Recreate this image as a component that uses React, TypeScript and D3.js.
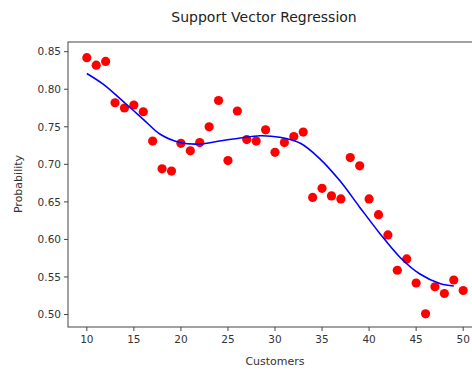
import React from "react";
import * as d3 from "d3";

const customers = [10,11,12,13,14,15,16,17,18,19,20,21,22,23,24,25,26,27,28,29,30,31,32,33,34,35,36,37,38,39,40,41,42,43,44,45,46,47,48,49,50];
const probability = [0.842,0.832,0.837,0.782,0.775,0.779,0.770,0.731,0.694,0.691,0.728,0.718,0.729,0.750,0.785,0.705,0.771,0.733,0.731,0.746,0.716,0.729,0.737,0.743,0.656,0.668,0.658,0.654,0.709,0.698,0.654,0.633,0.606,0.559,0.574,0.542,0.501,0.537,0.528,0.546,0.532];

const fitX = [10,11.7,14.2,16,17.8,19.9,22,24.1,26.3,28.4,30.5,32.7,34.8,36.9,39,41.2,43.3,45.4,47.6,49];
const fitY = [0.821,0.807,0.780,0.760,0.740,0.729,0.727,0.731,0.735,0.738,0.736,0.728,0.707,0.678,0.643,0.607,0.576,0.554,0.541,0.538];

const xTicks = [10,15,20,25,30,35,40,45,50];
const yTicks = [0.5,0.55,0.6,0.65,0.7,0.75,0.8,0.85];

const W = 472, H = 370;
const left = 68, right = 482, top = 42, bottom = 327;

export default function App() {
  const x = d3.scaleLinear().domain([8, 52]).range([left, right]);
  const y = d3.scaleLinear().domain([0.4834, 0.8629]).range([bottom, top]);
  const line = d3.line<number>().x((_, i) => x(fitX[i])).y((d) => y(d)).curve(d3.curveCatmullRom);
  const font = "DejaVu Sans, sans-serif";
  return (
    <svg width={W} height={H} style={{ position: "absolute", left: 0, top: 0, background: "#fff" }}>
      <text x={264} y={22} textAnchor="middle" fontFamily={font} fontSize={14} fill="#222">Support Vector Regression</text>
      {probability.map((p, i) => (
        <circle key={i} cx={x(customers[i])} cy={y(p)} r={4.6} fill="#ff0000" />
      ))}
      <path d={line(fitY) || ""} fill="none" stroke="#0000ff" strokeWidth={1.6} />
      <rect x={left} y={top} width={right - left} height={bottom - top} fill="none" stroke="#444" strokeWidth={1} />
      {xTicks.map((t) => (
        <g key={t}>
          <line x1={x(t)} x2={x(t)} y1={bottom} y2={bottom + 4} stroke="#444" />
          <text x={x(t)} y={bottom + 16} textAnchor="middle" fontFamily={font} fontSize={10.5} fill="#333">{t}</text>
        </g>
      ))}
      {yTicks.map((t) => (
        <g key={t}>
          <line x1={left - 4} x2={left} y1={y(t)} y2={y(t)} stroke="#444" />
          <text x={left - 7} y={y(t) + 3.8} textAnchor="end" fontFamily={font} fontSize={10.5} fill="#333">{t.toFixed(2)}</text>
        </g>
      ))}
      <text x={275} y={365} textAnchor="middle" fontFamily={font} fontSize={11} fill="#333">Customers</text>
      <text transform={`translate(22,184) rotate(-90)`} textAnchor="middle" fontFamily={font} fontSize={11} fill="#333">Probability</text>
    </svg>
  );
}
